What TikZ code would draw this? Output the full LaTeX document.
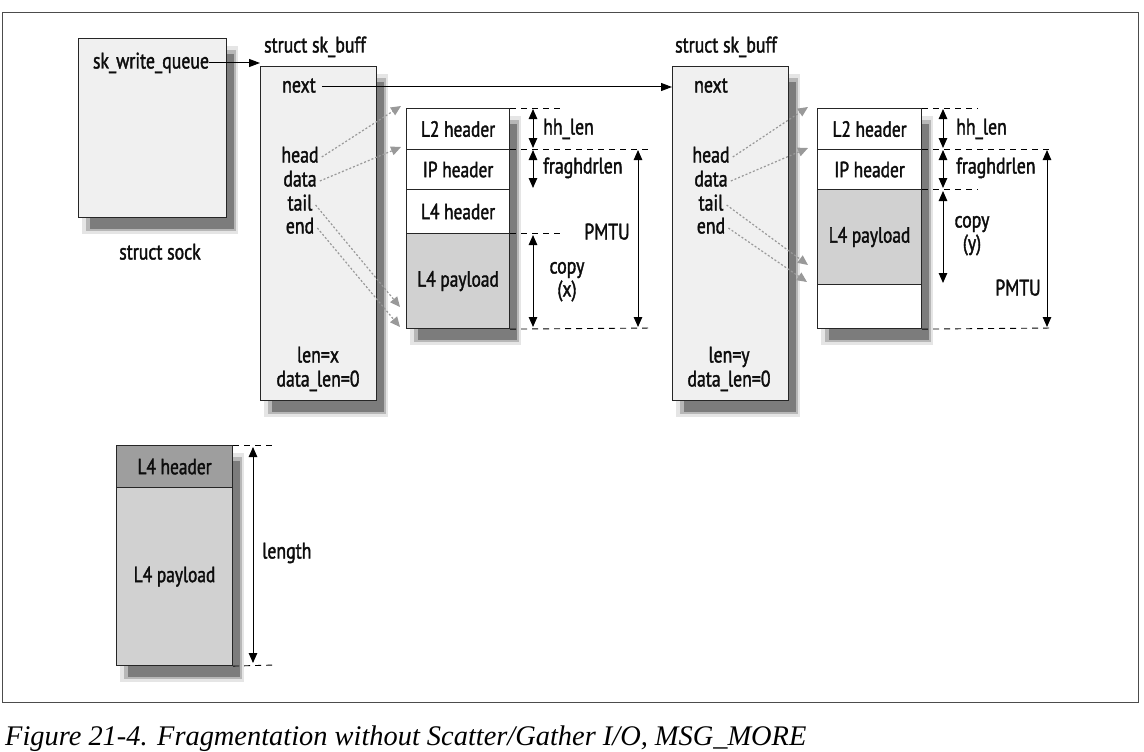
\documentclass[tikz,border=0pt]{standalone}
\usepackage{fontspec}
\setmainfont{PT Sans}[FakeStretch=0.79,FakeBold=1.6]
\newfontfamily\capfont{Liberation Serif}
\usetikzlibrary{arrows.meta}
\newcommand\dropshadow[4]{%
 \fill[black,opacity=0.10] ({#1+4},{#2+8}) rectangle ({#3+12},{#4+17});
 \fill[black,opacity=0.20] ({#1+8},{#2+12}) rectangle ({#3+10},{#4+14});
 \fill[black,opacity=0.32] ({#1+12},{#2+16}) rectangle ({#3+8},{#4+12});}
\begin{document}
\begin{tikzpicture}[x=1pt,y=-1pt,
  txt/.style={font=\fontsize{22.5}{24}\selectfont, inner sep=0pt, text=black!95, text height=15pt, text depth=4pt},
  sbox/.style={draw=black!85, line width=1.1pt, fill=black!6, anchor=north west, inner sep=0pt},
  cell/.style={draw=black!85, line width=1.1pt, fill=white, anchor=north west, inner sep=0pt, minimum width=103pt, font=\fontsize{22}{24}\selectfont, text=black!95},
  pay/.style={cell, fill=black!18},
  hdr/.style={cell, fill=black!38},
  ptr/.style={line width=1pt, -{Triangle[length=11pt,width=8pt]}},
  dim/.style={line width=1pt, {Triangle[length=10pt,width=8.5pt]}-{Triangle[length=10pt,width=8.5pt]}},
  guide/.style={line width=0.9pt, dash pattern=on 6pt off 5pt},
  dots/.style={draw=black!40, line width=1.2pt, dash pattern=on 2pt off 2pt, -{Triangle[length=10pt,width=9pt]}}
]
\useasboundingbox (0,0) rectangle (1144,752);
\fill[white] (0,0) rectangle (1144,752);
\draw[line width=0.9pt, black!70] (2,12) rectangle (1138,702);

% struct sock
\dropshadow{78}{38}{226}{217}
\node[sbox, minimum width=148pt, minimum height=179pt] (sock) at (78,38) {};
\node[txt] (swq) at (151,63) {sk\_write\_queue};
\node[txt] (socklbl) at (160,254) {struct sock};

% sk_buff 1
\dropshadow{260}{66}{376}{400}
\node[sbox, minimum width=116pt, minimum height=334pt] (skb1) at (260,66) {};
\node[txt] (skb1lbl) at (315,47) {struct sk\_buff};
\node[txt] (next1) at (299,87) {next};
\node[txt] (head1) at (300,157) {head};
\node[txt] (data1) at (300,181) {data};
\node[txt] (tail1) at (300,205) {tail};
\node[txt] (end1) at (300,228) {end};
\node[txt] (len1) at (318,357) {len=x};
\node[txt] (dlen1) at (318,381) {data\_len=0};

% sk_buff 2
\dropshadow{672}{66}{788}{400}
\node[sbox, minimum width=116pt, minimum height=334pt] (skb2) at (672,66) {};
\node[txt] (skb2lbl) at (726,47) {struct sk\_buff};
\node[txt] (next2) at (711,87) {next};
\node[txt] (head2) at (711,157) {head};
\node[txt] (data2) at (711,181) {data};
\node[txt] (tail2) at (711,205) {tail};
\node[txt] (end2) at (711,228) {end};
\node[txt] (len2) at (729,357) {len=y};
\node[txt] (dlen2) at (729,381) {data\_len=0};

\draw[ptr] (swq.east) -- (skb1.west |- swq);
\draw[ptr] (next1.east) ++(6,0) -- (skb2.west |- next1);

% fragment 1
\dropshadow{406}{108}{509}{328}
\node[cell, minimum height=41pt] (f1l2) at (406,108) {L2 header};
\node[cell, minimum height=40pt] (f1ip) at (406,149) {IP header};
\node[cell, minimum height=44pt] (f1l4) at (406,189) {L4 header};
\node[pay, minimum height=95pt] (f1pl) at (406,233) {L4 payload};

\coordinate (g1a) at (565,108);
\coordinate (g1b) at (653,149);
\coordinate (g1c) at (565,233);
\coordinate (g1d) at (653,328);
\draw[guide] (f1l2.north east) -- (g1a);
\draw[guide] (f1ip.north east) -- (g1b);
\draw[guide] (f1pl.north east) -- (g1c);
\draw[guide] (f1pl.south east) -- (g1d);
\draw[dim] (533,109) -- (533,148);
\draw[dim] (533,150) -- (533,188);
\draw[dim] (533,235) -- (533,327);
\draw[dim] (638,150) -- (638,327);
\node[txt, anchor=west] (hh1) at (543,129) {hh\_len};
\node[txt, anchor=west] (fh1) at (543,168) {fraghdrlen};
\node[txt] (cp1a) at (567,268) {copy};
\node[txt] (cp1b) at (567,291) {(x)};
\node[txt] (pm1) at (607,234) {PMTU};

\coordinate (t1a) at (401,106);
\coordinate (t1b) at (401,147);
\coordinate (t1c) at (400,307);
\coordinate (t1d) at (400,327);
\draw[dots] ([xshift=3pt]head1.east) -- (t1a);
\draw[dots] ([xshift=3pt]data1.east) -- (t1b);
\draw[dots] ([xshift=3pt]tail1.east) -- (t1c);
\draw[dots] ([xshift=3pt]end1.east) -- (t1d);

% fragment 2
\dropshadow{817}{108}{921}{328}
\node[cell, minimum width=104pt, minimum height=41pt] (f2l2) at (817,108) {L2 header};
\node[cell, minimum width=104pt, minimum height=40pt] (f2ip) at (817,149) {IP header};
\node[pay, minimum width=104pt, minimum height=95pt] (f2pl) at (817,189) {L4 payload};
\node[cell, minimum width=104pt, minimum height=44pt] (f2em) at (817,284) {};

\coordinate (g2a) at (978,108);
\coordinate (g2b) at (1053,149);
\coordinate (g2c) at (978,189);
\coordinate (g2d) at (1053,328);
\draw[guide] (f2l2.north east) -- (g2a);
\draw[guide] (f2ip.north east) -- (g2b);
\draw[guide] (f2pl.north east) -- (g2c);
\draw[guide] (f2em.south east) -- (g2d);
\draw[dim] (943,109) -- (943,148);
\draw[dim] (943,150) -- (943,188);
\draw[dim] (943,191) -- (943,283);
\draw[dim] (1047,150) -- (1047,327);
\node[txt, anchor=west] (hh2) at (956,129) {hh\_len};
\node[txt, anchor=west] (fh2) at (956,168) {fraghdrlen};
\node[txt] (cp2a) at (972,222) {copy};
\node[txt] (cp2b) at (972,245) {(y)};
\node[txt] (pm2) at (1018,290) {PMTU};

\coordinate (t2a) at (808,107);
\coordinate (t2b) at (808,148);
\coordinate (t2c) at (808,265);
\coordinate (t2d) at (807,282);
\draw[dots] ([xshift=3pt]head2.east) -- (t2a);
\draw[dots] ([xshift=3pt]data2.east) -- (t2b);
\draw[dots] ([xshift=3pt]tail2.east) -- (t2c);
\draw[dots] ([xshift=3pt]end2.east) -- (t2d);

% bottom block
\dropshadow{116}{445}{232}{665}
\node[hdr, minimum width=116pt, minimum height=42pt] (b4h) at (116,445) {L4 header};
\node[pay, minimum width=116pt, minimum height=178pt] (b4p) at (116,487) {L4 payload};
\coordinate (g3a) at (275,445);
\coordinate (g3b) at (275,665);
\draw[guide] (b4h.north east) -- (g3a);
\draw[guide] (b4p.south east) -- (g3b);
\draw[dim] (253,447) -- (253,663);
\node[txt, anchor=west] (lenlbl) at (262,553) {length};

% caption
\node[anchor=base west, inner sep=0pt, font=\capfont\itshape\fontsize{28.4}{30}\selectfont] (cap) at (5,745) {Figure 21-4. Fragmentation without Scatter/Gather I/O, MSG\_MORE};
\end{tikzpicture}
\end{document}
